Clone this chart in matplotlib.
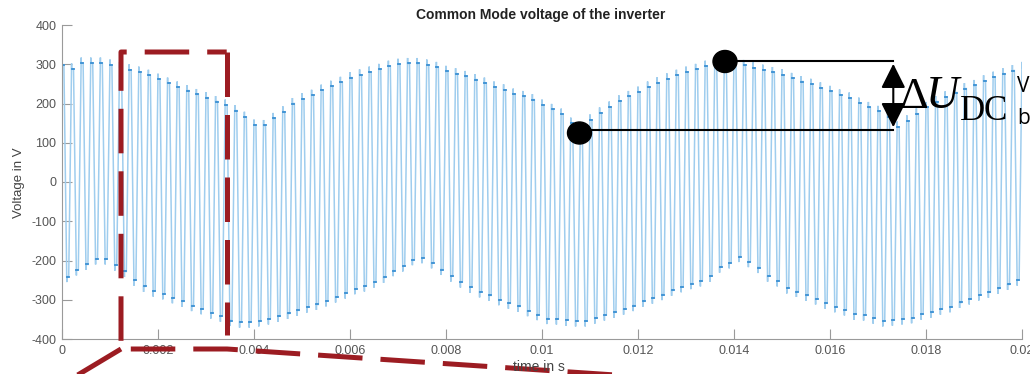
import numpy as np
import matplotlib
matplotlib.use("Agg")
import matplotlib.pyplot as plt
from matplotlib.lines import Line2D
from matplotlib.patches import Ellipse, FancyArrowPatch

# ---------------- data ----------------
T_SW = 0.0002          # switching period in s (100 pulses in 20 ms)
OVERSHOOT = 14         # spike above/below the settled level, V

# upper envelope (settled level at each top vertex, t = k*T_SW, k = 0..100)
top_v = [298, 288, 303, 303, 303, 298, 292, 286, 280, 272,
         262, 252, 242, 233, 223, 215, 205, 196, 182, 165,
         145, 144, 162, 179, 200, 212, 221, 234, 244, 254,
         266, 273, 280, 287, 295, 300, 302, 302, 298, 292,
         282, 276, 269, 261, 252, 242, 235, 224, 218, 210,
         196, 185, 173, 150, 128, 158, 176, 191, 207, 218,
         229, 242, 253, 263, 272, 280, 287, 295, 302, 308,
         305, 297, 291, 285, 279, 273, 264, 256, 249, 240,
         231, 222, 214, 201, 190, 180, 165, 140, 156, 174,
         190, 205, 217, 228, 238, 246, 258, 267, 276, 284,
         292]
# lower envelope (settled level at each bottom vertex, t = (k+0.5)*T_SW, k = 0..99)
bot_v = [-241, -224, -210, -196, -196, -212, -228, -250, -266, -278,
         -285, -295, -304, -315, -323, -334, -342, -353, -357, -357,
         -354, -349, -342, -335, -327, -319, -312, -303, -293, -283,
         -272, -265, -255, -243, -226, -214, -198, -193, -206, -223,
         -240, -255, -268, -280, -289, -300, -309, -317, -328, -338,
         -348, -349, -352, -354, -354, -347, -339, -332, -324, -315,
         -304, -296, -287, -276, -267, -259, -252, -240, -217, -206,
         -190, -203, -218, -240, -252, -270, -279, -289, -298, -309,
         -318, -326, -337, -339, -347, -354, -352, -349, -346, -337,
         -332, -324, -318, -307, -298, -288, -281, -271, -261, -250]

x_ticks = [0, 0.002, 0.004, 0.006, 0.008, 0.01, 0.012, 0.014, 0.016, 0.018, 0.02]
x_tick_labels = ["0", "0.002", "0.004", "0.006", "0.008", "0.01", "0.012",
                 "0.014", "0.016", "0.018", "0.02"]
y_ticks = [-400, -300, -200, -100, 0, 100, 200, 300, 400]
y_tick_labels = ["-400", "-300", "-200", "-100", "0", "100", "200", "300", "400"]

title = "Common Mode voltage of the inverter"
xlabel = "time in s"
ylabel = "Voltage in V"

# ---------------- figure ----------------
W, H = 1030, 374
fig = plt.figure(figsize=(W / 100, H / 100), dpi=100)
fig.patch.set_facecolor("white")


def fp(x, y):
    """pixel (from top-left) -> figure fraction"""
    return x / W, 1 - y / H


ax = fig.add_axes([62 / W, 1 - 339 / H, 960 / W, 314 / H])

# build the switching waveform (zigzag between envelopes)
d = 0.00004
xs, ys = [], []
tx, ty = [], []
n = len(bot_v)
for k in range(n):
    t = k * T_SW
    xs += [t, t, t + d]
    ys += [top_v[k] + OVERSHOOT, top_v[k], top_v[k]]
    tx += [t, t + d, np.nan]
    ty += [top_v[k], top_v[k], np.nan]
    tb = t + T_SW / 2
    xs += [tb, tb, tb + d]
    ys += [bot_v[k] - OVERSHOOT, bot_v[k], bot_v[k]]
    tx += [tb, tb + d, np.nan]
    ty += [bot_v[k], bot_v[k], np.nan]
t_end = n * T_SW
xs += [t_end, t_end]
ys += [top_v[n] + OVERSHOOT, top_v[n]]

ax.plot(xs, ys, color="#9fcdee", lw=1.1, solid_joinstyle="miter")
ax.plot(tx, ty, color="#3a8fd3", lw=1.3)

ax.set_xlim(0, 0.02)
ax.set_ylim(-400, 400)
ax.set_xticks(x_ticks)
ax.set_xticklabels(x_tick_labels)
ax.set_yticks(y_ticks)
ax.set_yticklabels(y_tick_labels)
for s in ["top", "right"]:
    ax.spines[s].set_visible(False)
for s in ["left", "bottom"]:
    ax.spines[s].set_color("#9a9a9a")
    ax.spines[s].set_linewidth(0.8)
ax.tick_params(direction="in", length=7, width=0.8, color="#9a9a9a",
               labelcolor="#555555", labelsize=9, pad=4)
for lab in ax.get_xticklabels() + ax.get_yticklabels():
    lab.set_fontfamily("Liberation Sans")

fig.text(*fp(541, 15), title, ha="center", va="center", fontsize=10,
         fontweight="bold", color="#222222", family="Liberation Sans")
fig.text(*fp(539, 367), xlabel, ha="center", va="center", fontsize=10,
         color="#444444", family="Liberation Sans")
fig.text(*fp(19, 183), ylabel, ha="center", va="center", fontsize=9.5,
         rotation=90, color="#444444", family="Liberation Sans")

# ---------------- red dashed zoom box ----------------
red = "#9c1c22"
lw_r = 3.6
dash = (8.9, 3.6)


def fig_line(pts, **kw):
    xx = [p[0] / W for p in pts]
    yy = [1 - p[1] / H for p in pts]
    fig.add_artist(Line2D(xx, yy, transform=fig.transFigure, **kw))


fig_line([(226.7, 52), (121, 52), (121, 349), (227, 349), (660, 378)],
         color=red, lw=lw_r, linestyle=(5, dash), solid_joinstyle="round",
         dash_capstyle="butt", dash_joinstyle="round")
fig_line([(226.7, 52), (226.7, 335)], color=red, lw=lw_r,
         linestyle=(0, dash), dash_capstyle="butt")
fig_line([(121, 349), (66, 382)], color=red, lw=lw_r, solid_capstyle="butt")

# ---------------- black delta annotation ----------------
fig_line([(727, 61), (893, 61)], color="black", lw=1.5)
fig_line([(579, 130), (893, 130)], color="black", lw=1.5)
for cx, cy in [(725, 61.5), (579.5, 133)]:
    fig.add_artist(Ellipse(fp(cx, cy), 24 / W, 22 / H, transform=fig.transFigure,
                           color="black", zorder=5))
arr = FancyArrowPatch(fp(893.3, 61), fp(893.3, 130), transform=fig.transFigure,
                      arrowstyle="<|-|>,head_length=1.5,head_width=0.75",
                      mutation_scale=10, color="black", lw=1.5)
fig.add_artist(arr)

fig.text(*fp(899, 97), "Δ", ha="left", va="center", fontsize=32,
         family="Liberation Serif", color="black")
fig.text(*fp(926, 97), "U", ha="left", va="center", fontsize=33,
         family="Liberation Serif", style="italic", color="black")
fig.text(*fp(960, 112), "DC", ha="left", va="center", fontsize=25,
         family="Liberation Serif", color="black")
fig.text(*fp(1017, 86), "V", ha="left", va="center", fontsize=15,
         family="Open Sans", color="black")
fig.text(*fp(1017, 118), "b", ha="left", va="center", fontsize=15,
         family="Open Sans", color="black")

fig.savefig("out.png", dpi=100)
